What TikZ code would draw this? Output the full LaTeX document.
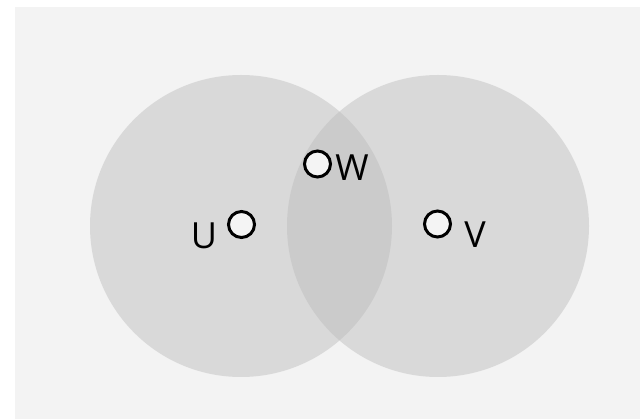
\documentclass[tikz,border=0pt]{standalone}
\usepackage{fontspec}
\setmainfont{Open Sans}
\definecolor{bgc}{HTML}{F3F3F3}
\definecolor{diskc}{HTML}{BABABA}
\definecolor{vfill}{HTML}{F4F4F4}
\begin{document}
\begin{tikzpicture}[x=1pt,y=-1pt,
  disk/.style={circle,minimum size=302pt,inner sep=0pt,fill=diskc,fill opacity=0.44},
  vert/.style={circle,draw=black,line width=3pt,fill=vfill,minimum size=26pt,inner sep=0pt},
  lab/.style={font=\fontsize{36}{38}\selectfont,inner sep=0pt}]
\useasboundingbox (0,0) rectangle (640,419);
\fill[bgc] (15,7) rectangle (640,419);
\node[disk] (L) at (241,226) {};
\node[disk] (R) at (438,226) {};
\node[vert] (u) at (241.5,224.5) {};
\node[vert] (w) at (317.5,164) {};
\node[vert] (v) at (437.5,224) {};
\node[lab] (ul) at (204,236) {U};
\node[lab] (wl) at (352,168) {W};
\node[lab] (vl) at (475,235) {V};
\end{tikzpicture}
\end{document}
